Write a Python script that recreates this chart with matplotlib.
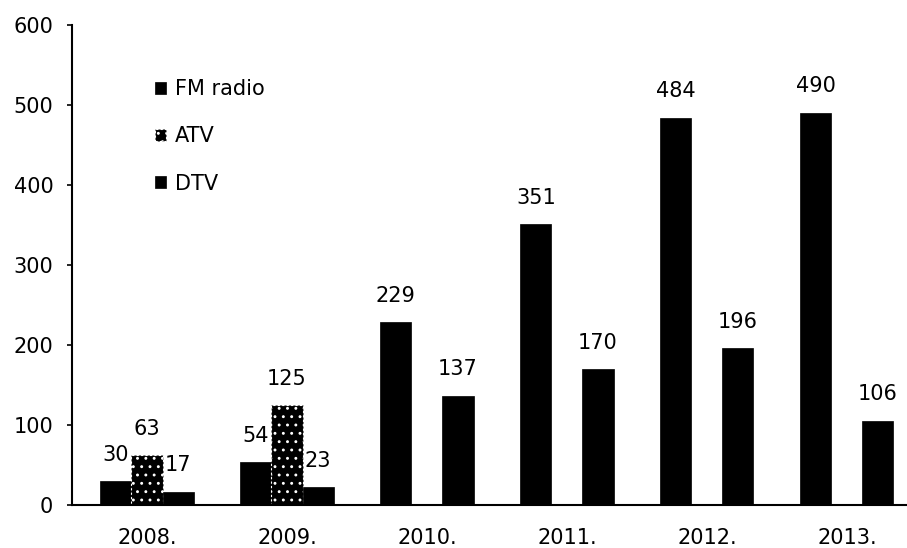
import matplotlib
matplotlib.use("Agg")
import matplotlib.pyplot as plt
import numpy as np

years = ["2008.", "2009.", "2010.", "2011.", "2012.", "2013."]
fm_radio = [30, 54, 229, 351, 484, 490]
atv = [63, 125, 0, 0, 0, 0]
dtv = [17, 23, 137, 170, 196, 106]
series_names = ["FM radio", "ATV", "DTV"]
y_ticks = [0, 100, 200, 300, 400, 500, 600]

plt.rcParams["font.family"] = ["DejaVu Sans"]
plt.rcParams["hatch.linewidth"] = 0.9

FS = 15

fig = plt.figure(figsize=(9.07, 5.48), dpi=100)
ax = fig.add_axes([0.0794, 0.0776, 0.9206, 0.8774])

x = np.arange(len(years))
w = 0.222

b_fm = ax.bar(x - w, fm_radio, w, color="black", edgecolor="black", linewidth=0.5)
b_atv = ax.bar(x, atv, w, color="black", edgecolor="white", hatch="..",
               linewidth=0.8, linestyle=(0, (2, 2)))
b_dtv = ax.bar(x + w, dtv, w, color="black", edgecolor="black", linewidth=0.5)

for bars, vals in ((b_fm, fm_radio), (b_atv, atv), (b_dtv, dtv)):
    for rect, v in zip(bars, vals):
        if v == 0:
            continue
        ax.annotate(str(v), (rect.get_x() + rect.get_width() / 2, v),
                    xytext=(0, 19), textcoords="offset points",
                    ha="center", va="center", fontsize=FS)

ax.set_xlim(-0.536, 5.43)
ax.set_ylim(0, 600)
ax.set_yticks(y_ticks)
ax.set_xticks(x)
ax.set_xticklabels(years)
ax.tick_params(axis="x", length=0, pad=16, labelsize=FS)
ax.tick_params(axis="y", length=3.5, width=1.2, pad=10, labelsize=FS)

for side in ("top", "right"):
    ax.spines[side].set_visible(False)
ax.spines["left"].set_linewidth(1.5)
ax.spines["bottom"].set_linewidth(1.5)

leg = ax.legend([b_fm[0], b_atv[0], b_dtv[0]], series_names,
                loc="upper left", bbox_to_anchor=(145 / 907, 1 - 69 / 548),
                bbox_transform=fig.transFigure, frameon=False, fontsize=FS,
                handlelength=0.5, handleheight=0.5, handletextpad=0.45,
                labelspacing=1.3, borderpad=0)

fig.savefig("out.png", dpi=100)
